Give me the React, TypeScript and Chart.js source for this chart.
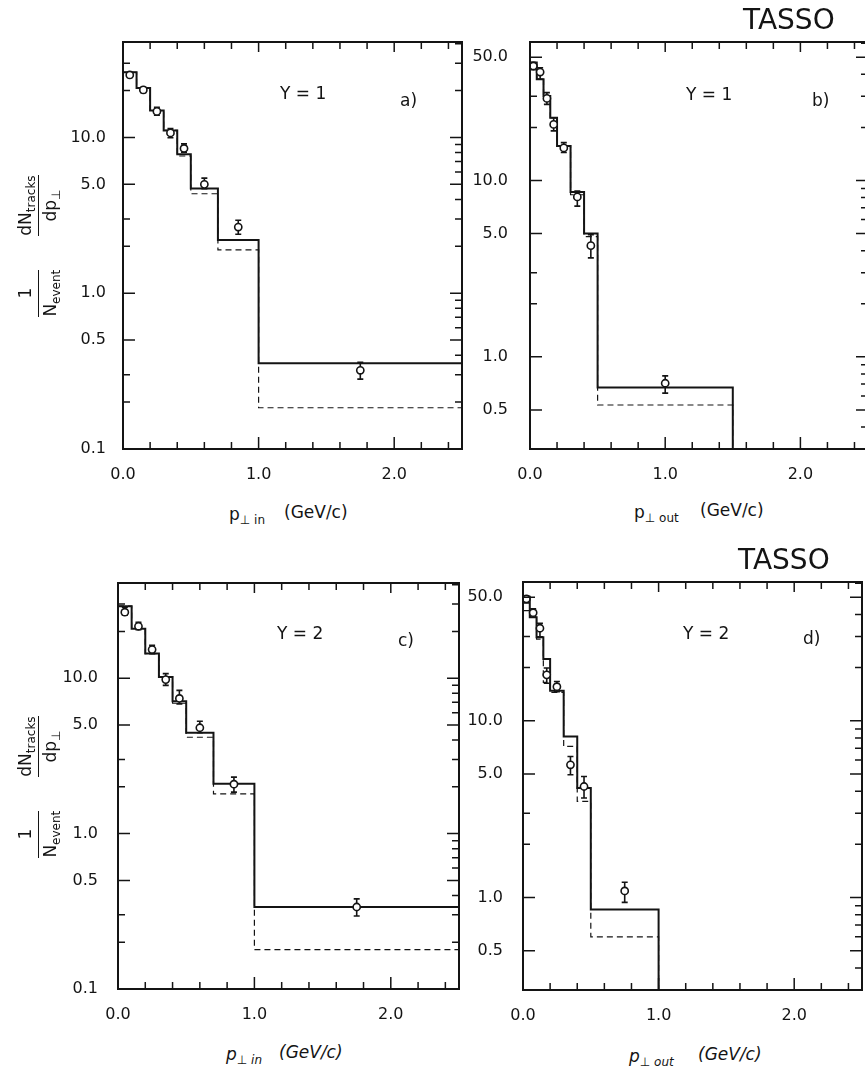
import React, { useEffect, useRef } from 'react';
import { Chart, registerables } from 'chart.js';

Chart.register(...registerables);

const FONT = "'DejaVu Sans', 'Liberation Sans', sans-serif";
const INK = '#141414';

// ---------- panel a : p_perp in, Y = 1 ----------
const A_EDGES = [0, 0.1, 0.2, 0.3, 0.4, 0.5, 0.7, 1.0, 2.5];
const A_SOLID = [26.2, 20.8, 14.9, 11.1, 7.8, 4.7, 2.2, 0.355];
const A_DASHED = [26.2, 20.8, 14.9, 11.1, 7.6, 4.35, 1.9, 0.184];
const A_PX = [0.05, 0.15, 0.25, 0.35, 0.45, 0.6, 0.85, 1.75];
const A_PY = [25.2, 20.2, 14.7, 10.7, 8.5, 5.0, 2.66, 0.32];
const A_LO = [24.3, 19.4, 13.9, 9.95, 8.05, 4.69, 2.39, 0.281];
const A_HI = [26.1, 21.0, 15.6, 11.4, 9.1, 5.48, 2.94, 0.36];

// ---------- panel b : p_perp out, Y = 1 ----------
const B_EDGES = [0, 0.05, 0.1, 0.15, 0.2, 0.3, 0.4, 0.5, 1.5];
const B_SOLID = [46.7, 37.5, 30.1, 22.7, 15.7, 8.6, 5.0, 0.67];
const B_DASHED = [46.7, 37.5, 30.1, 22.7, 15.7, 8.3, 4.8, 0.533];
const B_PX = [0.025, 0.075, 0.125, 0.175, 0.25, 0.35, 0.45, 1.0];
const B_PY = [44.6, 41.2, 29.2, 20.8, 15.3, 8.07, 4.27, 0.708];
const B_LO = [42.5, 37.5, 27.0, 19.1, 14.4, 7.15, 3.64, 0.622];
const B_HI = [46.5, 43.6, 31.5, 22.7, 16.4, 8.7, 4.93, 0.78];

// ---------- panel c : p_perp in, Y = 2 ----------
const C_EDGES = [0, 0.1, 0.2, 0.3, 0.4, 0.5, 0.7, 1.0, 2.5];
const C_SOLID = [29.1, 20.8, 14.4, 10.2, 7.1, 4.46, 2.09, 0.337];
const C_DASHED = [29.1, 20.8, 14.4, 10.2, 6.9, 4.17, 1.8, 0.179];
const C_PX = [0.05, 0.15, 0.25, 0.35, 0.45, 0.6, 0.85, 1.75];
const C_PY = [26.6, 21.6, 15.3, 9.8, 7.41, 4.8, 2.08, 0.337];
const C_LO = [25.4, 20.5, 14.4, 9.0, 6.84, 4.46, 1.85, 0.295];
const C_HI = [28.6, 22.9, 16.3, 10.7, 8.35, 5.28, 2.31, 0.38];

// ---------- panel d : p_perp out, Y = 2 ----------
const D_EDGES = [0, 0.05, 0.1, 0.15, 0.2, 0.3, 0.4, 0.5, 1.0];
const D_SOLID = [50.4, 38.6, 29.7, 22.4, 14.8, 8.15, 4.17, 0.855];
const D_DASHED = [42.0, 38.6, 29.0, 16.5, 14.5, 7.16, 3.5, 0.6];
const D_PX = [0.025, 0.075, 0.125, 0.175, 0.25, 0.35, 0.45, 0.75];
const D_PY = [48.9, 40.9, 33.4, 18.2, 15.6, 5.64, 4.25, 1.09];
const D_LO = [46.5, 39.0, 29.9, 16.3, 14.6, 4.95, 3.66, 0.94];
const D_HI = [51.0, 43.0, 35.6, 19.9, 16.7, 6.28, 4.84, 1.22];

// ---------- axes ----------
const X_TICKS = [0, 0.2, 0.4, 0.6, 0.8, 1.0, 1.2, 1.4, 1.6, 1.8, 2.0, 2.2, 2.4];
const X_LABELS = [0, 1, 2];
const Y_TICKS_IN = [0.1, 0.2, 0.3, 0.4, 0.5, 0.6, 0.7, 0.8, 0.9, 1, 2, 3, 4, 5, 6, 7, 8, 9, 10, 20, 30, 40];
const Y_TICKS_OUT = [0.3, 0.4, 0.5, 0.6, 0.7, 0.8, 0.9, 1, 2, 3, 4, 5, 6, 7, 8, 9, 10, 20, 30, 40, 50, 60];
const Y_LABELS_IN = [0.1, 0.5, 1, 5, 10];
const Y_LABELS_OUT = [0.5, 1, 5, 10, 50];
const Y_LEFT_MANTISSA = [1, 2, 3, 5];

const AX_W = 70;
const AX_H = 45;
const PAD_T = 32;
const PAD_R = 25;

type PanelDef = {
  key: string;
  box: { L: number; T: number; R: number; B: number };
  yMin: number;
  yMax: number;
  yPad: number;
  edges: number[];
  solid: number[];
  dashed: number[];
  px: number[];
  py: number[];
  lo: number[];
  hi: number[];
  yTicks: number[];
  yLabels: number[];
};

const PANELS: PanelDef[] = [
  { key: 'a', box: { L: 123, T: 42, R: 462, B: 449 }, yMin: 0.1, yMax: 41, yPad: 9,
    edges: A_EDGES, solid: A_SOLID, dashed: A_DASHED, px: A_PX, py: A_PY, lo: A_LO, hi: A_HI,
    yTicks: Y_TICKS_IN, yLabels: Y_LABELS_IN },
  { key: 'b', box: { L: 530, T: 42, R: 868, B: 449 }, yMin: 0.3, yMax: 61, yPad: 14,
    edges: B_EDGES, solid: B_SOLID, dashed: B_DASHED, px: B_PX, py: B_PY, lo: B_LO, hi: B_HI,
    yTicks: Y_TICKS_OUT, yLabels: Y_LABELS_OUT },
  { key: 'c', box: { L: 118, T: 583, R: 459, B: 989 }, yMin: 0.1, yMax: 41, yPad: 12,
    edges: C_EDGES, solid: C_SOLID, dashed: C_DASHED, px: C_PX, py: C_PY, lo: C_LO, hi: C_HI,
    yTicks: Y_TICKS_IN, yLabels: Y_LABELS_IN },
  { key: 'd', box: { L: 523, T: 582, R: 862, B: 990 }, yMin: 0.3, yMax: 61, yPad: 12,
    edges: D_EDGES, solid: D_SOLID, dashed: D_DASHED, px: D_PX, py: D_PY, lo: D_LO, hi: D_HI,
    yTicks: Y_TICKS_OUT, yLabels: Y_LABELS_OUT },
];

const near = (a: number, b: number) => Math.abs(a - b) < 1e-6 * Math.max(1, Math.abs(b));
const mantissa = (v: number) => Math.round(v / Math.pow(10, Math.floor(Math.log10(v) + 1e-9)));

// histogram outline: each value holds from its left edge to the next edge
function stepData(edges: number[], vals: number[], yFloor: number, xMax: number) {
  const d = vals.map((v, i) => ({ x: edges[i], y: v }));
  const last = edges[edges.length - 1];
  d.push({ x: last, y: vals[vals.length - 1] });
  if (last < xMax) d.push({ x: last, y: yFloor });
  return d;
}

function PanelChart({ p }: { p: PanelDef }) {
  const ref = useRef<HTMLCanvasElement | null>(null);
  const { L, T, R, B } = p.box;
  const width = R - L + AX_W + PAD_R;
  const height = B - T + PAD_T + AX_H;

  useEffect(() => {
    if (!ref.current) return;

    const errPlugin = {
      id: 'errbars',
      beforeDatasetsDraw(chart: any) {
        const { ctx, scales } = chart;
        const xs = scales.x, ys = scales.y;
        ctx.save();
        ctx.strokeStyle = INK;
        ctx.lineWidth = 1.6;
        ctx.beginPath();
        p.px.forEach((xv, i) => {
          const x = xs.getPixelForValue(xv);
          const y1 = ys.getPixelForValue(p.hi[i]);
          const y2 = ys.getPixelForValue(p.lo[i]);
          ctx.moveTo(x, y1); ctx.lineTo(x, y2);
          ctx.moveTo(x - 3, y1); ctx.lineTo(x + 3, y1);
          ctx.moveTo(x - 3, y2); ctx.lineTo(x + 3, y2);
        });
        ctx.stroke();
        ctx.restore();
      },
    };

    const framePlugin = {
      id: 'frameTicks',
      afterDatasetsDraw(chart: any) {
        const { ctx, chartArea, scales } = chart;
        const { left, top, right, bottom } = chartArea;
        const xs = scales.x, ys = scales.y;
        ctx.save();
        ctx.strokeStyle = INK;
        ctx.lineWidth = 1.5;
        ctx.beginPath();
        xs.ticks.forEach((t: any) => {
          const major = X_LABELS.some((v) => near(t.value, v));
          const len = major ? 12 : 7;
          const x = xs.getPixelForValue(t.value);
          ctx.moveTo(x, bottom); ctx.lineTo(x, bottom - len);
          ctx.moveTo(x, top); ctx.lineTo(x, top + (major ? 10 : 7));
        });
        ys.ticks.forEach((t: any) => {
          const major = p.yLabels.some((v) => near(t.value, v));
          const len = major ? 12 : 7;
          const y = ys.getPixelForValue(t.value);
          if (major || Y_LEFT_MANTISSA.includes(mantissa(t.value))) {
            ctx.moveTo(left, y); ctx.lineTo(left + len, y);
          }
          ctx.moveTo(right, y); ctx.lineTo(right - len, y);
        });
        ctx.stroke();
        ctx.lineWidth = 2;
        ctx.strokeRect(left, top, right - left, bottom - top);
        ctx.restore();
      },
    };

    const points = p.px.map((x, i) => ({ x, y: p.py[i] }));
    const tickFont = { family: FONT, size: 16 };

    const chart = new Chart(ref.current, {
      type: 'line',
      data: {
        datasets: [
          {
            type: 'scatter',
            data: points,
            showLine: false,
            pointStyle: 'circle',
            pointRadius: 3.6,
            pointBackgroundColor: '#ffffff',
            pointBorderColor: INK,
            pointBorderWidth: 1.6,
            order: 0,
          } as any,
          {
            data: stepData(p.edges, p.solid, p.yMin, 2.5),
            stepped: 'before',
            borderColor: INK,
            borderWidth: 2,
            pointRadius: 0,
            fill: false,
            order: 1,
          },
          {
            data: stepData(p.edges, p.dashed, p.yMin, 2.5),
            stepped: 'before',
            borderColor: INK,
            borderWidth: 1.2,
            borderDash: [6, 4],
            pointRadius: 0,
            fill: false,
            order: 2,
          },
        ],
      },
      options: {
        animation: false,
        responsive: false,
        maintainAspectRatio: false,
        events: [],
        layout: { padding: { top: PAD_T, right: PAD_R, left: 0, bottom: 0 } },
        plugins: { legend: { display: false }, tooltip: { enabled: false } },
        scales: {
          x: {
            type: 'linear',
            min: 0,
            max: 2.5,
            afterBuildTicks: (s: any) => { s.ticks = X_TICKS.map((v) => ({ value: v })); },
            afterFit: (s: any) => { s.height = AX_H; },
            grid: { display: false },
            border: { display: false },
            ticks: {
              autoSkip: false,
              maxRotation: 0,
              padding: 8,
              color: INK,
              font: tickFont,
              callback: (v: any) => (X_LABELS.some((l) => near(Number(v), l)) ? Number(v).toFixed(1) : ''),
            },
          },
          y: {
            type: 'logarithmic',
            min: p.yMin,
            max: p.yMax,
            afterBuildTicks: (s: any) => { s.ticks = p.yTicks.map((v) => ({ value: v })); },
            afterFit: (s: any) => { s.width = AX_W; },
            grid: { display: false },
            border: { display: false },
            ticks: {
              autoSkip: false,
              padding: p.yPad,
              color: INK,
              font: tickFont,
              callback: (v: any) => (p.yLabels.some((l) => near(Number(v), l)) ? Number(v).toFixed(1) : ''),
            },
          },
        },
      } as any,
      plugins: [errPlugin, framePlugin],
    });
    return () => chart.destroy();
  }, [p]);

  return (
    <canvas
      ref={ref}
      width={width}
      height={height}
      style={{ position: 'absolute', left: L - AX_W, top: T - PAD_T, width, height }}
    />
  );
}

const sub: React.CSSProperties = { fontSize: 12, position: 'relative', top: 4 };

function Frac({ num, den }: { num: React.ReactNode; den: React.ReactNode }) {
  return (
    <span style={{ display: 'inline-flex', flexDirection: 'column', alignItems: 'stretch', lineHeight: 1 }}>
      <span style={{ textAlign: 'center', paddingBottom: 4, borderBottom: `1.5px solid ${INK}` }}>{num}</span>
      <span style={{ textAlign: 'center', paddingTop: 3 }}>{den}</span>
    </span>
  );
}

function YTitle({ cx, cy }: { cx: number; cy: number }) {
  const w = 200, h = 56;
  return (
    <div
      style={{
        position: 'absolute', left: cx - w / 2, top: cy - h / 2, width: w, height: h,
        transform: 'rotate(-90deg)', transformOrigin: 'center',
        display: 'flex', alignItems: 'center', justifyContent: 'center', gap: 34,
        fontFamily: FONT, fontSize: 17, color: INK, whiteSpace: 'nowrap',
      }}
    >
      <Frac num={<span>1</span>} den={<span>N<span style={sub}>event</span></span>} />
      <Frac num={<span>dN<span style={sub}>tracks</span></span>} den={<span>dp<span style={sub}>⊥</span></span>} />
    </div>
  );
}

function Txt({ x, cy, size, children, italic }: { x: number; cy: number; size: number; children: React.ReactNode; italic?: boolean }) {
  const lh = Math.round(size * 1.3);
  return (
    <div
      style={{
        position: 'absolute', left: x, top: cy - lh / 2, lineHeight: `${lh}px`, fontSize: size,
        fontFamily: FONT, color: INK, whiteSpace: 'nowrap', fontStyle: italic ? 'italic' : 'normal',
      }}
    >
      {children}
    </div>
  );
}

function XTitle({ x, x2, cy, which, italic }: { x: number; x2: number; cy: number; which: string; italic?: boolean }) {
  return (
    <>
      <Txt x={x} cy={cy} size={17} italic={italic}>p<span style={sub}>⊥ {which}</span></Txt>
      <Txt x={x2} cy={cy - 2} size={17} italic={italic}>(GeV/c)</Txt>
    </>
  );
}

export default function App() {
  return (
    <div style={{ position: 'fixed', left: 0, top: 0, width: 865, height: 1068, overflow: 'hidden', background: '#ffffff' }}>
      {PANELS.map((p) => <PanelChart key={p.key} p={p} />)}

      <Txt x={743} cy={20} size={28}>TASSO</Txt>
      <Txt x={738} cy={560} size={28}>TASSO</Txt>

      <Txt x={280} cy={93} size={17}>Y = 1</Txt>
      <Txt x={400} cy={100} size={17}>a)</Txt>
      <Txt x={686} cy={94} size={17}>Y = 1</Txt>
      <Txt x={812} cy={100} size={17}>b)</Txt>
      <Txt x={277} cy={633} size={17}>Y = 2</Txt>
      <Txt x={398} cy={640} size={17}>c)</Txt>
      <Txt x={683} cy={633} size={17}>Y = 2</Txt>
      <Txt x={803} cy={638} size={17}>d)</Txt>

      <XTitle x={229} x2={284} cy={514} which="in" />
      <XTitle x={634} x2={700} cy={512} which="out" />
      <XTitle x={226} x2={279} cy={1054} which="in" italic />
      <XTitle x={629} x2={698} cy={1056} which="out" italic />

      <YTitle cx={38} cy={246} />
      <YTitle cx={38} cy={787} />
    </div>
  );
}
